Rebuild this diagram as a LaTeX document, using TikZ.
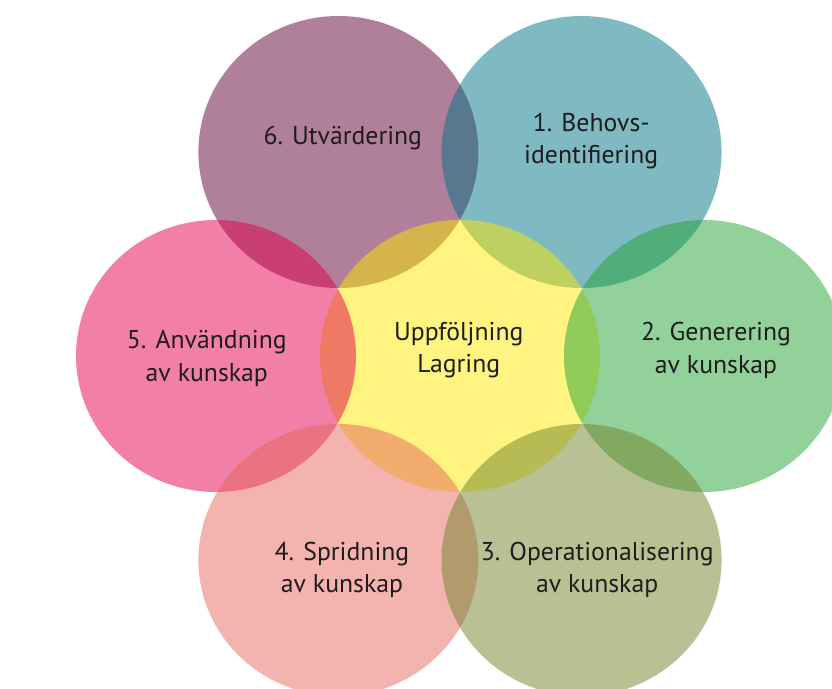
\documentclass[tikz,border=0pt]{standalone}
\usepackage{fontspec}
\setmainfont{PT Sans}
\usetikzlibrary{shapes.geometric}

\definecolor{petalpurple}{RGB}{97,0,51}
\definecolor{petalteal}{RGB}{0,115,133}
\definecolor{petalgreen}{RGB}{37,163,53}
\definecolor{petalolive}{RGB}{113,131,41}
\definecolor{petalsalmon}{RGB}{231,103,93}
\definecolor{petalpink}{RGB}{227,0,79}
\definecolor{hubyellow}{RGB}{253,233,0}
\definecolor{labeltext}{RGB}{30,28,29}

\begin{document}
\begin{tikzpicture}
    \useasboundingbox (-11.5,-8.325) rectangle (9.3,8.9);

    \begin{scope}[every node/.style={ellipse,minimum width=7cm,minimum height=6.8cm,inner sep=0pt,fill opacity=0.5}]
        \node[fill=petalpurple] (U) at (-3.04,5.1) {};
        \node[fill=petalteal] (B) at (3.04,5.1) {};
        \node[fill=hubyellow] (C) at (0,0) {};
        \node[fill=petalpink] (A) at (-6.1,0) {};
        \node[fill=petalsalmon] (S) at (-3.04,-5.1) {};
        \node[fill=petalgreen] (G) at (6.1,0) {};
        \node[fill=petalolive] (O) at (3.04,-5.1) {};
    \end{scope}
    \begin{scope}[every node/.style={align=center,text=labeltext,font=\fontsize{18.3}{23}\selectfont}]
        \node (Ctext) at (-0.03,0.14) {Uppföljning\\Lagring};
        \node (Btext) at (3.28,5.37) {1. Behovs-\\identifiering};
        \node (Gtext) at (6.4,0.14) {2. Generering\\av kunskap};
        \node (Otext) at (3.43,-5.34) {3. Operationalisering\\av kunskap};
        \node (Stext) at (-2.95,-5.34) {4. Spridning\\av kunskap};
        \node (Atext) at (-6.33,-0.06) {5. Användning\\av kunskap};
        \node (Utext) at (-2.93,5.44) {6. Utvärdering};
    \end{scope}
\end{tikzpicture}
\end{document}
